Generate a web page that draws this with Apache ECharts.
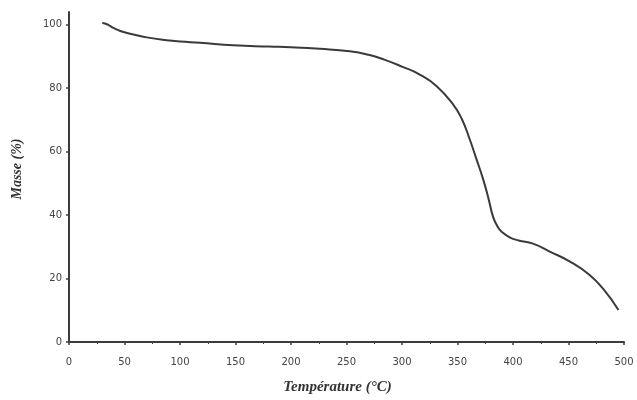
<!DOCTYPE html>
<html>
<head>
<meta charset="utf-8">
<script src="https://cdn.jsdelivr.net/npm/echarts@6/dist/echarts.min.js"></script>
<style>html,body{margin:0;padding:0;background:#fff}#c{width:637px;height:400px}</style>
</head>
<body>
<div id="c"></div>
<script>
const temperature = [30, 33, 36, 40, 45, 50, 58, 70, 88, 100, 118, 148, 180, 200, 226, 253, 270, 284, 300, 316, 331, 346, 354, 361, 367, 373, 378, 382, 386, 390, 397, 405, 418, 433, 451, 469, 482, 495];
const masse = [100.5, 100.3, 99.8, 99.0, 98.2, 97.6, 96.9, 96.0, 95.1, 94.7, 94.3, 93.5, 93.1, 92.9, 92.4, 91.6, 90.5, 89.0, 86.8, 84.3, 80.7, 74.9, 70.2, 63.9, 57.7, 51.4, 45.1, 39.5, 36.4, 34.7, 33.0, 32.0, 31.0, 28.5, 25.4, 21.1, 16.4, 10.1];
const xTicks = [0, 50, 100, 150, 200, 250, 300, 350, 400, 450, 500];
const yTicks = [0, 20, 40, 60, 80, 100];

const chart = echarts.init(document.getElementById('c'), null, {renderer: 'canvas'});
const axisColor = '#3c3c3c';
chart.setOption({
  animation: false,
  backgroundColor: '#fff',
  grid: {left: 69, right: 13, top: 12, bottom: 56},
  xAxis: {
    type: 'value', min: 0, max: 500, interval: 50,
    name: 'Température (°C)', nameLocation: 'middle', nameGap: 38,
    nameTextStyle: {fontFamily: 'Liberation Serif', fontStyle: 'italic', fontWeight: 'bold', fontSize: 15, color: '#333', padding: [0, 18, 0, 0]},
    axisLine: {lineStyle: {color: axisColor, width: 2}},
    axisTick: {show: true, length: 3, inside: false, lineStyle: {color: axisColor, width: 1.5}, customValues: xTicks},
    minorTick: {show: true, splitNumber: 2, length: 2, lineStyle: {color: axisColor}},
    axisLabel: {customValues: xTicks, fontFamily: 'DejaVu Sans', fontSize: 10, color: '#444', margin: 15},
    splitLine: {show: false}
  },
  yAxis: {
    type: 'value', min: 0, max: 104,
    name: 'Masse (%)', nameLocation: 'middle', nameGap: 45,
    nameTextStyle: {fontFamily: 'Liberation Serif', fontStyle: 'italic', fontWeight: 'bold', fontSize: 14, color: '#333', padding: [0, 0, 0, 16]},
    axisLine: {show: true, lineStyle: {color: axisColor, width: 2}},
    axisTick: {show: true, length: 3, lineStyle: {color: axisColor, width: 1.5}, customValues: yTicks},
    axisLabel: {customValues: yTicks, fontFamily: 'DejaVu Sans', fontSize: 10, color: '#444', margin: 7},
    splitLine: {show: false}
  },
  series: [{
    type: 'line',
    data: temperature.map((t, i) => [t, masse[i]]),
    smooth: 0.5,
    showSymbol: false,
    lineStyle: {color: '#3a3a3a', width: 2}
  }]
});
</script>
</body>
</html>
